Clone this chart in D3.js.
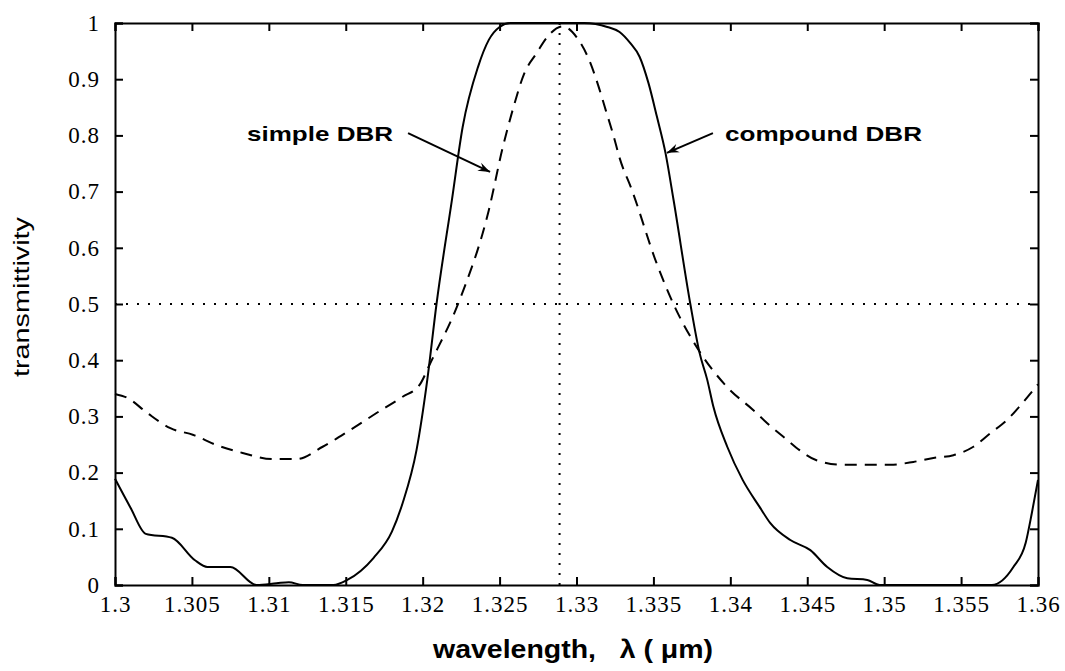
<!DOCTYPE html>
<html>
<head>
<meta charset="utf-8">
<script src="https://cdn.jsdelivr.net/npm/d3@7"></script>
<style>
  body { margin: 0; background: #fff; }
  .tick text { font-family: 'Liberation Serif', 'Times New Roman', serif; font-size: 23px; letter-spacing: 1px; }
</style>
</head>
<body>
<div id="chart"></div>
<script>
const width = 1065
const height = 671
const margin = { top: 23, right: 27, bottom: 86, left: 115 }

// wavelength (um) for compound DBR
const compoundX = [1.3000, 1.3010, 1.3020, 1.3037, 1.3052, 1.3060, 1.3075, 1.3092, 1.3105, 1.3113, 1.3122, 1.3142,
  1.3151, 1.3168, 1.3180, 1.3187, 1.3196, 1.3203, 1.3209, 1.3219, 1.3226, 1.3236, 1.3243, 1.3250, 1.3257, 1.3305,
  1.3320, 1.3328, 1.3335, 1.3341, 1.33468, 1.33523, 1.33579, 1.33631, 1.3374, 1.3380, 1.3385, 1.3389, 1.3398, 1.3408, 1.3419,
  1.3426, 1.3439, 1.3452, 1.3463, 1.3476, 1.3489, 1.3497, 1.3570, 1.3584, 1.3592, 1.3596, 1.3600]
const compoundY = [0.189, 0.138, 0.091, 0.084, 0.044, 0.032, 0.032, 0.000, 0.003, 0.005, 0.000, 0.000,
  0.009, 0.048, 0.095, 0.146, 0.24, 0.365, 0.5, 0.685, 0.815, 0.922, 0.97, 0.993, 1.0, 1.0,
  0.993, 0.984, 0.964, 0.94, 0.893, 0.833, 0.768, 0.685, 0.5, 0.413, 0.365, 0.317, 0.246, 0.187, 0.139,
  0.110, 0.080, 0.062, 0.032, 0.012, 0.009, 0.000, 0.000, 0.032, 0.075, 0.128, 0.187]

// wavelength (um) for simple DBR
const simpleX = [1.3000, 1.3008, 1.3021, 1.3036, 1.3051, 1.3066, 1.3083, 1.3103, 1.3118, 1.3135, 1.3153, 1.3170,
  1.3187, 1.3198, 1.3205, 1.3224, 1.3243, 1.3252, 1.3259, 1.3266, 1.3274, 1.3281, 1.3291, 1.3300, 1.3309, 1.3314,
  1.3319, 1.3324, 1.3328, 1.3336, 1.3352, 1.3363, 1.3378, 1.3398, 1.3415, 1.3424, 1.3437, 1.3445, 1.3456, 1.3473,
  1.3504, 1.3519, 1.3532, 1.3545, 1.3558, 1.3569, 1.3580, 1.3590, 1.3600]
const simpleY = [0.34, 0.333, 0.306, 0.279, 0.267, 0.249, 0.235, 0.224, 0.224, 0.246, 0.276, 0.306,
  0.335, 0.356, 0.395, 0.507, 0.667, 0.778, 0.85, 0.91, 0.946, 0.975, 0.994, 0.975, 0.929, 0.89,
  0.845, 0.80, 0.76, 0.703, 0.573, 0.5, 0.424, 0.352, 0.311, 0.288, 0.258, 0.24, 0.222, 0.214,
  0.214, 0.219, 0.226, 0.231, 0.246, 0.27, 0.294, 0.324, 0.357]

const xTicks = [1.3, 1.305, 1.31, 1.315, 1.32, 1.325, 1.33, 1.335, 1.34, 1.345, 1.35, 1.355, 1.36]
const yTicks = [0, 0.1, 0.2, 0.3, 0.4, 0.5, 0.6, 0.7, 0.8, 0.9, 1]
const centerWavelength = 1.3289
const halfLevel = 0.5

const svg = d3.select("#chart")
  .append("svg")
  .attr("width", width)
  .attr("height", height)
  .style("background-color", "#fff")

const x = d3.scaleLinear().domain([1.3, 1.36]).range([margin.left, width - margin.right])
const y = d3.scaleLinear().domain([0, 1]).range([height - margin.bottom, margin.top])

const serif = "Liberation Serif"
const sans = "Liberation Sans"

// reference lines
svg.append("line")
  .attr("x1", x(1.3)).attr("x2", x(1.36))
  .attr("y1", y(halfLevel)).attr("y2", y(halfLevel))
  .attr("stroke", "#000").attr("stroke-width", 2)
  .attr("stroke-dasharray", "2,9")
svg.append("line")
  .attr("x1", x(centerWavelength)).attr("x2", x(centerWavelength))
  .attr("y1", y(0)).attr("y2", y(1))
  .attr("stroke", "#000").attr("stroke-width", 2)
  .attr("stroke-dasharray", "2,8")

// curves
const line = d3.line()
  .x(d => x(d[0]))
  .y(d => y(d[1]))
  .curve(d3.curveMonotoneX)

svg.append("path")
  .datum(simpleX.map((v, i) => [v, simpleY[i]]))
  .attr("d", line)
  .attr("fill", "none")
  .attr("stroke", "#000")
  .attr("stroke-width", 2)
  .attr("stroke-dasharray", "12,8")

svg.append("path")
  .datum(compoundX.map((v, i) => [v, compoundY[i]]))
  .attr("d", line)
  .attr("fill", "none")
  .attr("stroke", "#000")
  .attr("stroke-width", 2)

// axes, ticks inward on all four sides
const tickLen = 8
svg.append("g")
  .attr("transform", `translate(0,${y(0)})`)
  .call(d3.axisBottom(x).tickValues(xTicks).tickSize(-tickLen).tickPadding(11)
    .tickFormat(d => d3.format("")(+d.toFixed(3))))
  .attr("font-family", serif).attr("font-size", 23)
svg.append("g")
  .attr("transform", `translate(0,${y(1)})`)
  .call(d3.axisTop(x).tickValues(xTicks).tickSize(-tickLen).tickFormat(""))
svg.append("g")
  .attr("transform", `translate(${x(1.3)},0)`)
  .call(d3.axisLeft(y).tickValues(yTicks).tickSize(-tickLen).tickPadding(15)
    .tickFormat(d => d3.format("")(+d.toFixed(1))))
  .attr("font-family", serif).attr("font-size", 23)
svg.append("g")
  .attr("transform", `translate(${x(1.36)},0)`)
  .call(d3.axisRight(y).tickValues(yTicks).tickSize(-tickLen).tickFormat(""))

svg.selectAll(".domain").attr("stroke", "#000").attr("stroke-width", 2)
svg.selectAll(".tick line").attr("stroke", "#000").attr("stroke-width", 2)
svg.selectAll(".tick text").attr("fill", "#000")

// axis labels
svg.append("text")
  .attr("transform", `translate(29,297) rotate(-90)`)
  .attr("text-anchor", "middle")
  .attr("font-family", sans)
  .attr("font-size", 22)
  .attr("textLength", 160)
  .attr("lengthAdjust", "spacingAndGlyphs")
  .text("transmittivity")

svg.append("text")
  .attr("x", 433)
  .attr("y", 658)
  .attr("font-family", sans)
  .attr("font-size", 25)
  .attr("font-weight", "bold")
  .attr("xml:space", "preserve")
  .attr("textLength", 280)
  .attr("lengthAdjust", "spacingAndGlyphs")
  .text("wavelength,   \u03bb ( \u03bcm)")

// annotations with arrows
svg.append("defs").append("marker")
  .attr("id", "arrow")
  .attr("viewBox", "0 -5 12 10")
  .attr("refX", 12).attr("refY", 0)
  .attr("markerWidth", 13).attr("markerHeight", 10)
  .attr("markerUnits", "userSpaceOnUse")
  .attr("orient", "auto")
  .append("path")
  .attr("d", "M0,-4.5 L12,0 L0,4.5 L4,0 Z")
  .attr("fill", "#000")

const notes = [
  { text: "simple DBR", left: 247, len: 146, from: [1.31905, 0.804], to: [1.32438, 0.735] },
  { text: "compound DBR", left: 725, len: 197, from: [1.33887, 0.804], to: [1.33588, 0.769] }
]
notes.forEach(n => {
  svg.append("text")
    .attr("x", n.left)
    .attr("y", 141)
    .attr("font-family", sans)
    .attr("font-size", 21)
    .attr("font-weight", "bold")
    .attr("textLength", n.len)
    .attr("lengthAdjust", "spacingAndGlyphs")
    .text(n.text)
  svg.append("line")
    .attr("x1", x(n.from[0])).attr("y1", y(n.from[1]))
    .attr("x2", x(n.to[0])).attr("y2", y(n.to[1]))
    .attr("stroke", "#000").attr("stroke-width", 2)
    .attr("marker-end", "url(#arrow)")
})
</script>
</body>
</html>
